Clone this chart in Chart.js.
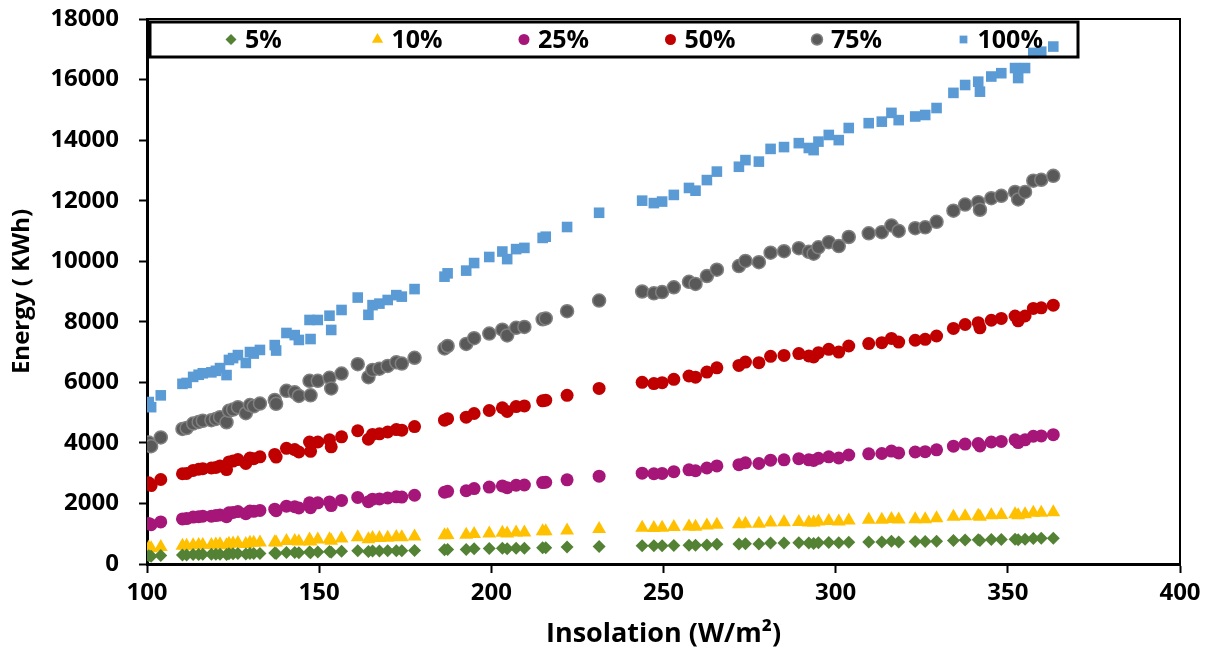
<!DOCTYPE html>
<html>
<head>
<meta charset="utf-8">
<script src="https://cdn.jsdelivr.net/npm/chart.js@4/dist/chart.umd.min.js"></script>
<style>
  html, body { margin: 0; padding: 0; background: #fff; }
  #wrap { width: 1212px; height: 655px; }
</style>
</head>
<body>
<div id="wrap"><canvas id="chart" width="1212" height="655"></canvas></div>
<script>
// Insolation (W/m2) - shared x for all load levels
const insolation = [
  100.5, 101.2, 104.0, 110.3, 111.5, 113.4, 115.0, 116.2, 118.7, 120.0,
  121.2, 123.1, 123.8, 125.0, 126.4, 128.7, 129.9, 131.0, 132.8, 137.1,
  137.5, 140.5, 142.9, 144.1, 147.2, 147.5, 149.6, 153.0, 153.5, 156.5,
  161.2, 164.3, 165.5, 167.5, 169.9, 172.4, 174.0, 177.7, 186.4, 187.3,
  192.7, 195.0, 199.4, 203.2, 204.6, 207.2, 209.6, 214.9, 215.8, 222.0,
  231.3, 243.8, 247.2, 249.6, 253.0, 257.4, 259.3, 262.6, 265.5, 271.9,
  273.8, 277.7, 281.1, 285.0, 289.3, 292.2, 293.6, 295.0, 298.0, 300.9,
  303.8, 309.6, 313.4, 316.2, 318.3, 323.1, 326.0, 329.3, 334.2, 337.6,
  341.4, 341.9, 345.2, 348.1, 352.1, 353.0, 355.0, 357.4, 359.7, 363.2
];

// Energy (KWh) per series
const e5 = [
  270, 260, 280, 300, 300, 310, 310, 320, 320, 320,
  320, 310, 340, 340, 350, 330, 350, 350, 350, 360,
  350, 380, 380, 370, 400, 370, 400, 410, 390, 420,
  440, 410, 430, 430, 440, 440, 440, 450, 470, 480,
  480, 500, 510, 520, 500, 520, 520, 540, 540, 560,
  580, 600, 600, 600, 610, 620, 620, 630, 650, 660,
  670, 660, 690, 690, 700, 690, 680, 700, 710, 700,
  720, 730, 730, 750, 730, 740, 740, 750, 780, 790,
  800, 780, 810, 810, 820, 800, 820, 840, 850, 850
];
const e10 = [
  540, 520, 560, 600, 600, 620, 630, 630, 630, 640,
  650, 620, 670, 680, 690, 660, 700, 700, 710, 720,
  710, 760, 760, 740, 810, 740, 810, 820, 770, 840,
  880, 820, 860, 860, 870, 890, 880, 910, 950, 960,
  970, 990, 1010, 1030, 1010, 1040, 1040, 1080, 1080, 1110,
  1160, 1200, 1190, 1200, 1220, 1240, 1230, 1270, 1300, 1310,
  1330, 1330, 1370, 1380, 1390, 1370, 1370, 1400, 1420, 1400,
  1440, 1460, 1460, 1490, 1470, 1480, 1480, 1510, 1560, 1580,
  1590, 1560, 1610, 1620, 1640, 1610, 1640, 1690, 1690, 1710
];
const e25 = [
  1340, 1300, 1390, 1490, 1500, 1550, 1560, 1580, 1580, 1600,
  1620, 1560, 1690, 1700, 1730, 1660, 1750, 1740, 1770, 1810,
  1760, 1910, 1890, 1850, 2020, 1860, 2020, 2050, 1930, 2100,
  2200, 2060, 2140, 2150, 2180, 2220, 2210, 2270, 2370, 2400,
  2420, 2490, 2540, 2580, 2520, 2600, 2610, 2690, 2700, 2780,
  2900, 3000, 2980, 2990, 3050, 3110, 3080, 3170, 3240, 3280,
  3340, 3320, 3430, 3440, 3480, 3440, 3420, 3490, 3540, 3500,
  3600, 3640, 3650, 3730, 3670, 3700, 3710, 3770, 3890, 3960,
  3980, 3900, 4030, 4050, 4100, 4010, 4100, 4220, 4230, 4270
];
const e50 = [
  2680, 2590, 2790, 2980, 2990, 3090, 3130, 3150, 3170, 3190,
  3240, 3120, 3370, 3400, 3450, 3320, 3500, 3480, 3540, 3620,
  3530, 3820, 3780, 3700, 4030, 3720, 4030, 4100, 3870, 4200,
  4400, 4120, 4280, 4300, 4360, 4440, 4420, 4540, 4750, 4800,
  4850, 4970, 5070, 5160, 5040, 5200, 5220, 5390, 5410, 5570,
  5800, 6000, 5960, 5990, 6100, 6210, 6170, 6340, 6480, 6560,
  6670, 6650, 6860, 6890, 6950, 6870, 6840, 6980, 7090, 7000,
  7200, 7280, 7310, 7450, 7330, 7390, 7420, 7530, 7780, 7910,
  7970, 7800, 8050, 8110, 8190, 8030, 8190, 8440, 8460, 8550
];
const e75 = [
  4010, 3890, 4180, 4460, 4490, 4640, 4690, 4730, 4750, 4790,
  4850, 4680, 5060, 5100, 5180, 4980, 5250, 5210, 5300, 5420,
  5290, 5720, 5670, 5550, 6050, 5570, 6050, 6150, 5800, 6290,
  6600, 6170, 6410, 6450, 6540, 6660, 6620, 6810, 7120, 7200,
  7270, 7460, 7610, 7740, 7550, 7800, 7830, 8080, 8110, 8350,
  8700, 9000, 8940, 8980, 9140, 9320, 9250, 9510, 9720, 9840,
  10010, 9970, 10280, 10330, 10430, 10310, 10250, 10460, 10630, 10500,
  10800, 10920, 10960, 11180, 11000, 11090, 11120, 11300, 11670, 11870,
  11950, 11700, 12080, 12160, 12290, 12040, 12290, 12660, 12690, 12820
];
const e100 = [
  5350, 5180, 5570, 5950, 5980, 6180, 6250, 6300, 6330, 6380,
  6470, 6240, 6740, 6800, 6900, 6640, 7000, 6950, 7070, 7230,
  7050, 7630, 7560, 7400, 8060, 7430, 8060, 8200, 7730, 8390,
  8800, 8230, 8550, 8600, 8720, 8880, 8830, 9080, 9490, 9600,
  9690, 9940, 10140, 10320, 10070, 10400, 10440, 10770, 10810, 11130,
  11600, 12000, 11920, 11970, 12190, 12420, 12330, 12680, 12960, 13120,
  13340, 13290, 13710, 13770, 13900, 13740, 13670, 13950, 14170, 14000,
  14400, 14560, 14610, 14900, 14660, 14780, 14830, 15060, 15560, 15820,
  15930, 15600, 16100, 16210, 16380, 16050, 16380, 16880, 16920, 17090
];

const seriesLabels = ['5%', '10%', '25%', '50%', '75%', '100%'];
const xTicks = [100, 150, 200, 250, 300, 350, 400];
const yTicks = [0, 2000, 4000, 6000, 8000, 10000, 12000, 14000, 16000, 18000];

const FONT = "'Open Sans', 'DejaVu Sans', sans-serif";

function pts(ys) {
  return insolation.map((x, i) => ({ x: x, y: ys[i] }));
}

const styles = [
  { data: e5,   style: 'rectRot',  r: 6.5, fill: '#548235', line: '#548235', bw: 0 },
  { data: e10,  style: 'triangle', r: 8,   fill: '#FFC000', line: '#FFC000', bw: 0 },
  { data: e25,  style: 'circle',   r: 6.5, fill: '#A61679', line: '#A61679', bw: 0 },
  { data: e50,  style: 'circle',   r: 6.5, fill: '#C00000', line: '#C00000', bw: 0 },
  { data: e75,  style: 'circle',   r: 6.5, fill: '#595959', line: '#808080', bw: 1.5 },
  { data: e100, style: 'rect',     r: 7.5, fill: '#5B9BD5', line: '#5B9BD5', bw: 0 },
];

const datasets = styles.map((s, i) => ({
  label: seriesLabels[i],
  data: pts(s.data),
  pointStyle: s.style,
  pointRadius: s.r,
  pointHoverRadius: s.r,
  backgroundColor: s.fill,
  borderColor: s.line,
  pointBorderWidth: s.bw,
  showLine: false,
}));

// Legend box drawn inside the plot, like the original
const boxLegend = {
  id: 'boxLegend',
  afterDatasetsDraw(chart) {
    const ctx = chart.ctx;
    const ca = chart.chartArea;
    const left = ca.left + 3, top = ca.top + 3, w = 928, h = 35;
    ctx.save();
    // plot frame (top + right)
    ctx.strokeStyle = '#000';
    ctx.lineWidth = 2;
    ctx.beginPath();
    ctx.moveTo(ca.left, ca.top);
    ctx.lineTo(ca.right, ca.top);
    ctx.lineTo(ca.right, ca.bottom);
    ctx.stroke();

    ctx.lineWidth = 3;
    ctx.strokeRect(left, top, w, h);

    const cy = top + h / 2;
    ctx.font = "bold 25px " + FONT;
    ctx.textBaseline = 'middle';
    ctx.textAlign = 'left';
    seriesLabels.forEach((lab, i) => {
      const s = styles[i];
      const mx = left + 81 + i * 146.5;
      ctx.fillStyle = s.fill;
      ctx.strokeStyle = s.line;
      ctx.lineWidth = s.bw;
      Chart.helpers.drawPoint(ctx, {
        pointStyle: s.style,
        radius: s.style === 'triangle' ? 6.5 : 5.5,
        rotation: 0,
        borderWidth: s.bw,
      }, mx, cy);
      ctx.fillStyle = '#000';
      ctx.fillText(lab, mx + 14, cy + 1);
    });
    ctx.restore();
  }
};

new Chart(document.getElementById('chart'), {
  type: 'scatter',
  data: { datasets: datasets },
  plugins: [boxLegend],
  options: {
    responsive: false,
    devicePixelRatio: 1,
    animation: false,
    layout: { padding: { top: 19, right: 32, left: 0, bottom: 0 } },
    plugins: {
      legend: { display: false },
      tooltip: { enabled: false },
    },
    scales: {
      x: {
        type: 'linear',
        min: 100,
        max: 400,
        afterBuildTicks: s => { s.ticks = xTicks.map(v => ({ value: v })); },
        afterFit: s => { s.height = 91; s.paddingLeft = 0; s.paddingRight = 0; },
        border: { color: '#000', width: 3 },
        grid: { drawOnChartArea: false, drawTicks: true, tickLength: 9, tickWidth: 2, color: '#000' },
        ticks: {
          color: '#000', padding: 6,
          font: { family: FONT, size: 24, weight: 'bold' },
          callback: v => String(v),
        },
        title: {
          display: true,
          text: 'Insolation (W/m²)',
          color: '#000',
          padding: { top: 0, bottom: 4 },
          font: { family: FONT, size: 27, weight: 'bold' },
        },
      },
      y: {
        type: 'linear',
        min: 0,
        max: 18000,
        afterBuildTicks: s => { s.ticks = yTicks.map(v => ({ value: v })); },
        afterFit: s => { s.width = 147; s.paddingTop = 0; s.paddingBottom = 0; },
        border: { color: '#000', width: 3 },
        grid: { drawOnChartArea: false, drawTicks: true, tickLength: 8, tickWidth: 2, color: '#000' },
        ticks: {
          color: '#000', padding: 20,
          font: { family: FONT, size: 24, weight: 'bold' },
          callback: v => String(v),
        },
        title: {
          display: true,
          text: 'Energy ( KWh)',
          color: '#000',
          padding: { top: 8, bottom: 0 },
          font: { family: FONT, size: 24, weight: 'bold' },
        },
      },
    },
  },
});
</script>
</body>
</html>
